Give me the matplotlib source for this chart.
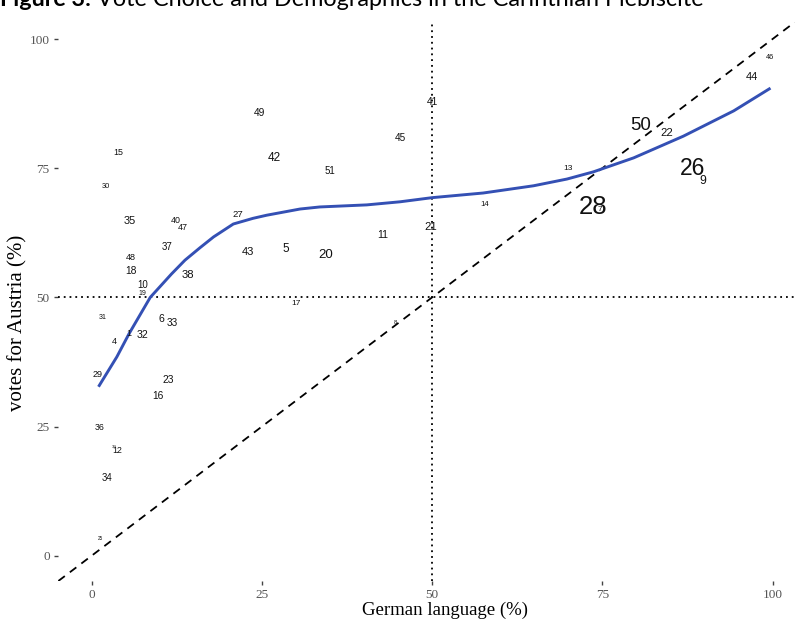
"""Vote choice vs. German language share, Carinthian plebiscite (Figure 3)."""
import matplotlib
matplotlib.use("Agg")
import matplotlib.pyplot as plt

# district labels, German language (%), votes for Austria (%), label size (pt)
labels = ["49", "15", "42", "51", "30", "35", "40", "47", "27", "11",
          "37", "43", "5", "20", "48", "18", "38", "10", "19", "17",
          "31", "6", "33", "1", "32", "4", "29", "23", "16", "36",
          "39", "12", "34", "25", "41", "45", "46", "44", "50", "22",
          "13", "26", "9", "14", "28", "7", "21", "8"]
german = [24.7, 3.9, 26.8, 35.0, 2.1, 5.6, 12.3, 13.3, 21.4, 42.7,
          11.1, 23.0, 28.5, 34.3, 5.7, 5.8, 14.1, 7.5, 7.5, 30.0,
          1.6, 10.2, 11.9, 5.5, 7.5, 3.3, 0.8, 11.3, 9.7, 1.1,
          3.3, 3.7, 2.2, 1.3, 50.0, 45.4, 99.7, 96.9, 80.7, 84.5,
          70.0, 88.2, 89.7, 57.8, 73.6, 74.6, 49.8, 44.6]
austria = [85.7, 78.0, 77.0, 74.5, 71.4, 64.8, 64.8, 63.6, 66.0, 62.0,
           59.8, 58.7, 59.3, 58.2, 57.8, 55.1, 54.4, 52.4, 50.8, 48.8,
           46.1, 45.8, 45.0, 43.0, 42.7, 41.5, 35.1, 34.0, 31.0, 24.8,
           21.1, 20.4, 15.1, 3.3, 87.8, 80.9, 96.5, 92.7, 83.2, 81.9,
           74.9, 74.9, 72.5, 68.0, 67.5, 67.1, 63.6, 45.1]
sizes = [7.4, 6.4, 8.5, 7.0, 5.4, 7.9, 6.4, 6.4, 6.8, 7.6,
         7.0, 8.1, 8.5, 9.5, 6.5, 7.4, 8.1, 7.0, 5.0, 6.0,
         5.1, 7.7, 7.2, 6.5, 7.7, 6.5, 6.5, 7.4, 7.4, 6.3,
         3.1, 6.3, 6.9, 3.3, 7.4, 7.2, 5.3, 8.1, 13.4, 8.1,
         6.0, 16.5, 8.7, 5.6, 18.5, 6.0, 8.1, 4.2]

# loess smooth
smooth_x = [1.0, 3.7, 5.5, 8.6, 11.7, 13.7, 15.9, 17.9, 20.8, 23.7, 25.7,
            30.6, 33.5, 40.4, 45.3, 50.0, 57.5, 64.9, 69.8, 73.7, 79.6,
            86.9, 94.3, 99.7]
smooth_y = [32.7, 38.5, 43.0, 50.0, 54.5, 57.2, 59.6, 61.7, 64.2, 65.3, 65.9,
            67.1, 67.5, 67.9, 68.5, 69.3, 70.2, 71.6, 72.9, 74.3, 77.0,
            81.2, 86.1, 90.5]

ticks = [0, 25, 50, 75, 100]

W, H = 795, 621
fig = plt.figure(figsize=(W / 100, H / 100), dpi=100)
ax = fig.add_axes([58 / W, 40 / H, 737 / W, 559 / H])
ax.set_xlim(-4.95, 103.3)
ax.set_ylim(-4.9, 103.3)

ax.axline((0, 0), slope=1, color="black", lw=1.3, ls=(0, (4.5, 3.5)))
ax.axvline(50, color="black", lw=1.3, ls=(0, (1, 2.2)))
ax.axhline(50, color="black", lw=1.3, ls=(0, (1, 2.2)))

for lab, xv, yv, s in zip(labels, german, austria, sizes):
    ax.text(xv, yv, lab, fontsize=s, family="Liberation Sans",
            color="#111111", ha="center", va="center")

ax.plot(smooth_x, smooth_y, color="#3450b4", lw=2.1, solid_capstyle="butt")

for sp in ax.spines.values():
    sp.set_visible(False)
ax.set_xticks(ticks)
ax.set_yticks(ticks)
ax.tick_params(length=3, width=1, color="#444444", labelcolor="#555555",
               labelsize=9.5, pad=3)
for t in ax.get_xticklabels() + ax.get_yticklabels():
    t.set_family("Liberation Serif")
ax.set_xlabel("German language (%)", family="Liberation Serif",
              fontsize=13.5, va="center")
ax.set_ylabel("votes for Austria (%)", family="Liberation Serif",
              fontsize=15, va="center")
# axis titles sit where the source image has them
ax.xaxis.set_label_coords((445 - 58) / 737, -(610 - 581) / 559)
ax.yaxis.set_label_coords(-(58 - 18) / 737, (581 - 323) / 559)

# title, partly cut off at the top edge as in the source image
rend = fig.canvas.get_renderer()
ty = (H - 6) / H
t1 = fig.text(0.0, ty, "Figure 3:", fontsize=16.8, family="Lato",
              weight="bold", va="baseline", ha="left")
w1 = t1.get_window_extent(renderer=rend).width
fig.text((w1 + 6) / W, ty,
         "Vote Choice and Demographics in the Carinthian Plebiscite",
         fontsize=16.8, family="Lato", va="baseline", ha="left")

fig.savefig("out.png", dpi=100)
